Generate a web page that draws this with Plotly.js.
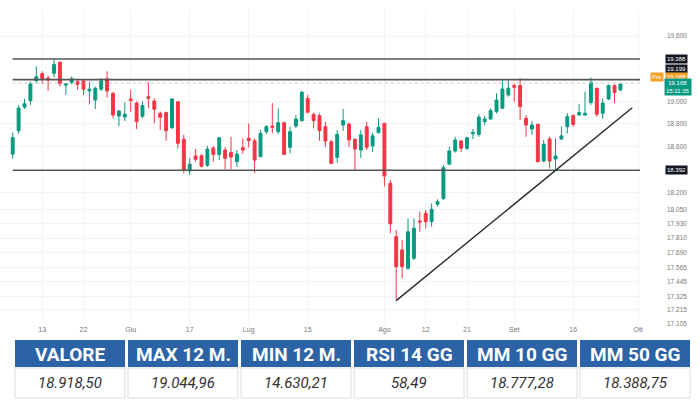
<!DOCTYPE html>
<html><head><meta charset="utf-8">
<script src="https://cdn.plot.ly/plotly-3.0.1.min.js"></script>
<style>html,body{margin:0;padding:0;background:#fff}#chart{width:700px;height:400px}</style>
</head><body><div id="chart"></div>
<script>
const dates = [
"2024-05-06","2024-05-07","2024-05-08","2024-05-09","2024-05-10","2024-05-13","2024-05-14","2024-05-15","2024-05-16","2024-05-17",
"2024-05-20","2024-05-21","2024-05-22","2024-05-23","2024-05-24","2024-05-27","2024-05-28","2024-05-29","2024-05-30","2024-05-31",
"2024-06-03","2024-06-04","2024-06-05","2024-06-06","2024-06-07","2024-06-10","2024-06-11","2024-06-12","2024-06-13","2024-06-14",
"2024-06-17","2024-06-18","2024-06-19","2024-06-20","2024-06-21","2024-06-24","2024-06-25","2024-06-26","2024-06-27","2024-06-28",
"2024-07-01","2024-07-02","2024-07-03","2024-07-04","2024-07-05","2024-07-08","2024-07-09","2024-07-10","2024-07-11","2024-07-12",
"2024-07-15","2024-07-16","2024-07-17","2024-07-18","2024-07-19","2024-07-22","2024-07-23","2024-07-24","2024-07-25","2024-07-26",
"2024-07-29","2024-07-30","2024-07-31","2024-08-01","2024-08-02","2024-08-05","2024-08-06","2024-08-07","2024-08-08","2024-08-09",
"2024-08-12","2024-08-13","2024-08-14","2024-08-15","2024-08-16","2024-08-19","2024-08-20","2024-08-21","2024-08-22","2024-08-23",
"2024-08-26","2024-08-27","2024-08-28","2024-08-29","2024-08-30","2024-09-02","2024-09-03","2024-09-04","2024-09-05","2024-09-06",
"2024-09-09","2024-09-10","2024-09-11","2024-09-12","2024-09-13","2024-09-16","2024-09-17","2024-09-18","2024-09-19","2024-09-20",
"2024-09-23","2024-09-24","2024-09-25","2024-09-26"];

const openV = [18533,18739,18951,19008,19189,19253,19213,19256,19357,19149,
19174,19180,19187,19096,19014,19112,19207,19075,18871,18862,
19023,18987,18868,19044,19005,18895,18901,18766,18999,18664,
18385,18517,18518,18436,18586,18530,18569,18548,18466,18589,
18672,18651,18511,18731,18781,18731,18811,18593,18781,18829,
19029,18886,18874,18775,18642,18505,18790,18799,18663,18569,
18775,18605,18722,18805,18278,17822,17710,17557,17640,17955,
18020,17949,18097,18148,18445,18560,18648,18584,18713,18707,
18820,18844,18910,18940,19060,19145,19145,18850,18755,18796,
18472,18666,18490,18666,18775,18874,18880,18880,18993,19121,
18895,19023,19145,19105];
const highV = [18723,18970,19025,19180,19320,19274,19236,19378,19369,19165,
19228,19195,19195,19180,19134,19213,19274,19085,18925,18993,
19105,19002,19002,19174,19029,18910,18910,19029,19005,18703,
18499,18578,18534,18605,18605,18686,18593,18686,18569,18671,
18805,18672,18746,18790,18987,18940,18820,18775,18880,19096,
19060,18901,18895,18820,18657,18746,18934,18811,18672,18746,
18820,18723,18850,18811,18307,17880,17794,17977,17977,18035,
18049,18106,18140,18437,18598,18686,18657,18686,18755,18886,
18871,18940,19075,19195,19195,19165,19213,18880,18826,18805,
18657,18686,18672,18775,18895,18886,18976,19090,19218,19126,
19029,19156,19156,19165];
const lowV = [18494,18712,18934,18970,19165,19159,19096,19218,19134,19060,
19156,19105,19060,18976,18934,19096,19035,18850,18781,18826,
18910,18755,18850,18940,18805,18746,18651,18755,18584,18365,
18351,18466,18416,18421,18466,18481,18400,18400,18421,18534,
18590,18365,18505,18710,18716,18710,18524,18540,18761,18820,
18895,18761,18651,18598,18445,18457,18737,18593,18394,18499,
18569,18552,18716,18250,17850,17290,17474,17543,17626,17864,
17893,17907,18077,18134,18437,18546,18552,18569,18666,18686,
18790,18835,18895,18934,19044,19000,18835,18686,18703,18461,
18461,18408,18394,18657,18716,18775,18874,18874,18970,18865,
18844,19014,18987,19096];
const closeV = [18678,18942,18981,19160,19225,19207,19198,19338,19165,19160,
19207,19156,19112,19112,19121,19187,19096,18880,18916,18886,
19011,18820,18964,19029,18931,18860,18740,19023,18628,18394,
18445,18488,18427,18577,18530,18677,18496,18507,18534,18569,
18651,18481,18716,18775,18770,18811,18530,18731,18844,19084,
18904,18829,18740,18648,18452,18707,18829,18657,18578,18703,
18593,18694,18770,18342,17931,17571,17571,17864,17893,17946,
17949,18055,18120,18414,18560,18657,18584,18677,18725,18860,
18844,18919,19014,19114,19121,19130,18955,18790,18790,18466,
18620,18472,18517,18694,18865,18796,18901,18895,19174,18886,
18987,19145,19081,19160];

// horizontal levels and trendline
const levelValues = [19388, 19199, 18392];
const levelLabels = ["19.388", "19.199", "18.392"];
const lastPrice = 19168;
const lastPriceLabel = "19.168";
const lastTime = "15:11:35";
const trendX = ["2024-08-05", "2024-09-30"];
const trendY = [17290, 18945];

// axis ticks
const xTickVals = ["2024-05-13","2024-05-22","2024-06-03","2024-06-17","2024-07-01","2024-07-15","2024-08-01","2024-08-12","2024-08-21","2024-09-02","2024-09-16","2024-10-01"];
const xTickText = ["13","22","Giu","17","Lug","15","Ago","12","21","Set","16","Ott"];
const yTickVals = [19600,19000,18800,18600,18200,18050,17930,17810,17690,17565,17445,17325,17215,17105];
const yTickText = ["19.600","19.000","18.800","18.600","18.200","18.050","17.930","17.810","17.690","17.565","17.445","17.325","17.215","17.105"];

// table
const tableHeaders = ["VALORE","MAX 12 M.","MIN 12 M.","RSI 14 GG","MM 10 GG","MM 50 GG"];
const tableValues = ["18.918,50","19.044,96","14.630,21","58,49","18.777,28","18.388,75"];

const xStart = "2024-05-01 20:20";
const xEnd = "2024-10-01 07:40";

const traces = [];
traces.push({
  type: "candlestick", x: dates, open: openV, high: highV, low: lowV, close: closeV,
  increasing: {line: {color: "#089981", width: 1}, fillcolor: "#089981"},
  decreasing: {line: {color: "#F23645", width: 1}, fillcolor: "#F23645"},
  whiskerwidth: 0, hoverinfo: "skip", showlegend: false
});
traces.push({type:"scatter", mode:"lines", x:[dates[0], xEnd], y:[lastPrice, lastPrice],
  line:{color:"#c9c9c9", width:1, dash:"dot"}, hoverinfo:"skip", showlegend:false});
levelValues.forEach(v => traces.push({type:"scatter", mode:"lines", x:[dates[0], xEnd], y:[v, v],
  line:{color:"#555555", width:1.6}, hoverinfo:"skip", showlegend:false}));
traces.push({type:"scatter", mode:"lines", x:trendX, y:trendY,
  line:{color:"#2a2a2a", width:1.4}, hoverinfo:"skip", showlegend:false});

const lg = v => Math.log10(v);
const ann = [];
const shapes = [];
function box(text, y, yshift, bg, xc) {
  ann.push({xref:"paper", yref:"y", x: xc, y: lg(y), yshift: yshift, text: text, showarrow:false,
    xanchor:"center", yanchor:"middle", bgcolor:bg, borderpad:1,
    font:{family:"Liberation Sans, Arial, sans-serif", size:6, color:"#ffffff"}});
}
box(levelLabels[0], levelValues[0], 0, "#131722", 676/700);
box(levelLabels[1], levelValues[1], 11, "#131722", 676/700);
box(levelLabels[2], levelValues[2], 0, "#131722", 676/700);
box("Pre", lastPrice, 6, "#f5a128", 657/700);
box(lastPriceLabel, lastPrice, 6, "#f5a128", 676/700);
box(lastPriceLabel + "<br>" + lastTime, lastPrice, -4, "#089981", 678/700);

// summary table below the chart (paper coordinates)
const W = 700, H = 400;
const px = v => v / W, py = v => 1 - v / H;
const colLeft = 15, colStep = 113, colW = 110;
const headTop = 340, headBot = 367, bodyBot = 398;
tableHeaders.forEach((h, i) => {
  const x0 = colLeft + i * colStep, x1 = x0 + colW;
  shapes.push({type:"rect", xref:"paper", yref:"paper", x0:px(x0), x1:px(x1), y0:py(headBot), y1:py(headTop),
    fillcolor:"#2c63a6", line:{width:0}, layer:"above"});
  shapes.push({type:"rect", xref:"paper", yref:"paper", x0:px(x0), x1:px(x1), y0:py(bodyBot), y1:py(headBot + 1),
    fillcolor:"#ffffff", line:{color:"#dcdcdc", width:1}, layer:"above"});
  ann.push({xref:"paper", yref:"paper", x:px((x0 + x1) / 2), y:py((headTop + headBot) / 2 + 0.5), text:"<b>" + h + "</b>",
    showarrow:false, xanchor:"center", yanchor:"middle",
    font:{family:"Roboto, Arial, sans-serif", size:19, color:"#ffffff", weight:700}});
  ann.push({xref:"paper", yref:"paper", x:px((x0 + x1) / 2), y:py((headBot + bodyBot) / 2 + 0.5), text:"<i>" + tableValues[i] + "</i>",
    showarrow:false, xanchor:"center", yanchor:"middle",
    font:{family:"Roboto, Arial, sans-serif", size:15, color:"#333333", style:"italic"}});
});

const layout = {
  width: 700, height: 400,
  margin: {l:0, r:0, t:0, b:0},
  paper_bgcolor: "#ffffff", plot_bgcolor: "#ffffff",
  showlegend: false,
  xaxis: {type:"date", domain:[0, 640/700], range:[xStart, xEnd],
    rangebreaks:[{bounds:["sat","mon"]}], rangeslider:{visible:false},
    tickmode:"array", tickvals:xTickVals, ticktext:xTickText,
    tickfont:{family:"Liberation Sans, Arial, sans-serif", size:7, color:"#777777"},
    showgrid:true, gridcolor:"#f3f4f7", gridwidth:1, zeroline:false, showline:false, ticks:"", fixedrange:true},
  yaxis: {type:"log", domain:[0.19, 0.975], range:[4.232978, 4.297607], side:"right", anchor:"x",
    tickmode:"array", tickvals:yTickVals, ticktext:yTickText,
    tickfont:{family:"Liberation Sans, Arial, sans-serif", size:6.5, color:"#777777"},
    ticks:"", ticklabelstandoff:26,
    showgrid:true, gridcolor:"#f3f4f7", gridwidth:1, zeroline:false, showline:false, fixedrange:true},
  annotations: ann,
  shapes: shapes
};
Plotly.newPlot("chart", traces, layout, {displayModeBar:false, staticPlot:true});
</script></body></html>
